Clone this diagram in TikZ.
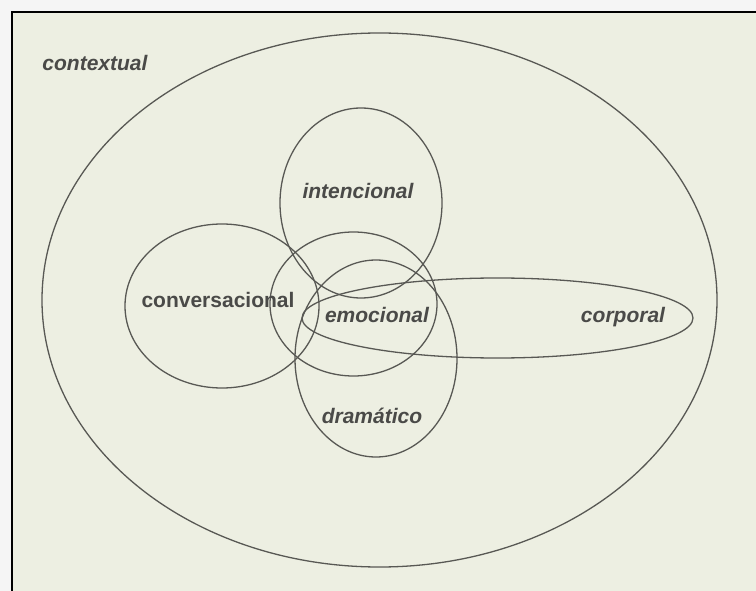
\documentclass[tikz,border=0pt]{standalone}
\usepackage{fontspec}
\setmainfont{Liberation Sans}
\usetikzlibrary{shapes.geometric}
\definecolor{paper}{RGB}{237,239,226}
\definecolor{ink}{RGB}{88,88,84}
\definecolor{txt}{RGB}{74,74,72}

\begin{document}
\begin{tikzpicture}[x=1pt,y=-1pt]
      \tikzset{set/.style={shape=ellipse,draw=ink,line width=1.3pt,inner sep=0pt}}
      \tikzset{lbl/.style={text=txt,anchor=base,inner sep=0pt,font=\fontsize{21}{25}\selectfont\bfseries\itshape}}

      \useasboundingbox (0,0) rectangle (756,591);
      \fill[black!4] (0,0) rectangle (756,591);
      \fill[paper] (12,12) rectangle (756,591);
      \draw[line width=1.6pt] (12,591) -- (12,12) -- (756,12);

      \node[set,minimum width=675pt,minimum height=534pt] (ctx) at (379.5,300) {};
      \node[set,minimum width=162pt,minimum height=190pt] (int) at (361,203) {};
      \node[set,minimum width=194pt,minimum height=164pt] (conv) at (222,306) {};
      \node[set,minimum width=167pt,minimum height=144pt] (emo) at (353.5,304) {};
      \node[set,minimum width=162pt,minimum height=197pt] (dram) at (376,358.5) {};
      \node[set,minimum width=391pt,minimum height=80pt] (corp) at (497.5,318) {};

      \node[lbl] (ctxL) at (95,71) {contextual};
      \node[lbl] (intL) at (358,199) {intencional};
      \node[lbl,font=\fontsize{21}{25}\selectfont\bfseries] (convL) at (218,307) {conversacional};
      \node[lbl] (emoL) at (377,322) {emocional};
      \node[lbl] (corpL) at (623,323) {corporal};
      \node[lbl] (dramL) at (372,423) {dramático};
    \end{tikzpicture}
\end{document}
